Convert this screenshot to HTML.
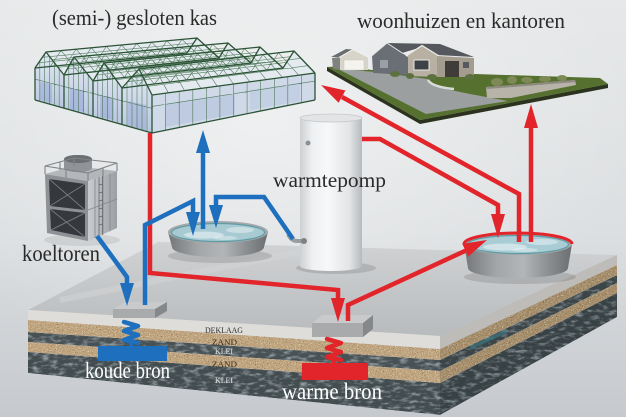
<!DOCTYPE html>
<html><head><meta charset="utf-8"><style>
html,body{margin:0;padding:0;width:626px;height:417px;overflow:hidden;background:#e0e2e4}
svg{display:block}
text{font-family:"Liberation Serif",serif}
</style></head><body>
<svg width="626" height="417" viewBox="0 0 626 417" xmlns="http://www.w3.org/2000/svg">
<defs>
<linearGradient id="bgG" x1="0" y1="0" x2="0" y2="1"><stop offset="0" stop-color="#e6e8e9"/><stop offset="0.55" stop-color="#dcdfe1"/><stop offset="1" stop-color="#c6cace"/></linearGradient>
<radialGradient id="bgR" cx="0.42" cy="0.3" r="0.6"><stop offset="0" stop-color="#fff" stop-opacity="0.45"/><stop offset="1" stop-color="#fff" stop-opacity="0"/></radialGradient>
<linearGradient id="topG" gradientUnits="userSpaceOnUse" x1="0" y1="245" x2="0" y2="336"><stop offset="0" stop-color="#cfd1d3"/><stop offset="1" stop-color="#b8bbbd"/></linearGradient>
<linearGradient id="hpG" x1="0" y1="0" x2="1" y2="0"><stop offset="0" stop-color="#cdd1d4"/><stop offset="0.2" stop-color="#eef0f1"/><stop offset="0.45" stop-color="#f7f8f9"/><stop offset="0.8" stop-color="#e2e4e6"/><stop offset="1" stop-color="#b6babe"/></linearGradient>
<linearGradient id="pbG" x1="0" y1="0" x2="1" y2="0"><stop offset="0" stop-color="#737679"/><stop offset="0.3" stop-color="#a3a6a9"/><stop offset="0.55" stop-color="#b3b6b9"/><stop offset="0.8" stop-color="#898c8f"/><stop offset="1" stop-color="#6b6e71"/></linearGradient>
<linearGradient id="twG" x1="0" y1="0" x2="1" y2="0"><stop offset="0" stop-color="#c9ccce"/><stop offset="1" stop-color="#9ca0a4"/></linearGradient>
<linearGradient id="ghG" x1="0" y1="0" x2="0" y2="1"><stop offset="0" stop-color="#e2e9f2"/><stop offset="1" stop-color="#b9c7df"/></linearGradient>
<filter id="sandF" color-interpolation-filters="sRGB">
 <feTurbulence type="fractalNoise" baseFrequency="0.85" numOctaves="2" seed="5" result="n"/>
 <feColorMatrix in="n" type="matrix" values="0 0 0 0 0.38  0 0 0 0 0.30  0 0 0 0 0.20  4 0 0 0 -2.45" result="dk"/>
 <feColorMatrix in="n" type="matrix" values="0 0 0 0 0.94  0 0 0 0 0.89  0 0 0 0 0.80  0 4 0 0 -2.3" result="lt"/>
 <feMerge result="m"><feMergeNode in="SourceGraphic"/><feMergeNode in="dk"/><feMergeNode in="lt"/></feMerge>
 <feComposite in="m" in2="SourceGraphic" operator="in"/>
</filter>
<filter id="kleiF" color-interpolation-filters="sRGB">
 <feTurbulence type="fractalNoise" baseFrequency="0.12 0.3" numOctaves="3" seed="8" result="n"/>
 <feColorMatrix in="n" type="matrix" values="0 0 0 0 0.56  0 0 0 0 0.60  0 0 0 0 0.62  0 0 3 0 -1.4" result="lt"/>
 <feMerge result="m"><feMergeNode in="SourceGraphic"/><feMergeNode in="lt"/></feMerge>
 <feComposite in="m" in2="SourceGraphic" operator="in"/>
</filter>
</defs>

<!-- background -->
<rect width="626" height="417" fill="url(#bgG)"/>
<rect width="626" height="417" fill="url(#bgR)"/>

<!-- greenhouse -->
<g>
 <polygon points="35,100 35,68 46,52 197,38 219,58 228,43 251,63 260,47 283,68 294,51 315,73 315,100 152,133" fill="#e4eaf0"/>
 <polygon points="152,95 315,73 315,100 152,133" fill="#cfd9e7"/>
 <polygon points="165,104 235,94 235,114 165,127" fill="#b2c1dc" opacity="0.6"/>
 <polygon points="250,90 300,83 300,101 250,110" fill="#b8c6df" opacity="0.5"/>
 <polygon points="35,100 35,68 46,52 64,75 64,108.2" fill="url(#ghG)"/>
 <polygon points="64,108.2 64,75 74,57 93,81 93,116.4" fill="url(#ghG)"/>
 <polygon points="93,116.4 93,81 104,63 122,88 122,124.5" fill="url(#ghG)"/>
 <polygon points="122,124.5 122,88 139,69 152,95 152,133" fill="url(#ghG)"/>
 <polygon points="40,82 52,84 52,103 40,100" fill="#8c9fd2" opacity="0.45"/>
 <polygon points="70,88 84,91 84,112 70,109" fill="#8c9fd2" opacity="0.45"/>
 <polygon points="100,95 114,98 114,120 100,117" fill="#8c9fd2" opacity="0.45"/>
 <polygon points="128,101 146,105 146,130 128,126" fill="#8c9fd2" opacity="0.4"/>
 <path id="ghgrid" d="" stroke="#3d6b47" stroke-width="0.6" fill="none" opacity="0.85"/>
 <path d="M35 100L152 133L315 100 M35 68L46 52L64 75L74 57L93 81L104 63L122 88L139 69L152 95 M35 68L35 100 M64 75L64 108 M93 81L93 116 M122 88L122 125 M152 95L152 133 M315 73L315 100 M35 68L187 53 M46 52L197 38 M64 75L219 58 M74 57L228 43 M93 81L251 63 M104 63L260 47 M122 88L283 68 M139 69L294 51 M152 95L315 73 M187 53L197 38L219 58L228 43L251 63L260 47L283 68L294 51L315 73" stroke="#2b5335" stroke-width="1.3" fill="none" stroke-linejoin="round"/>
</g>

<!-- house scene -->
<g>
 <polygon points="327,67 420,120 608,84 608,88 420,124 327,71" fill="#2b331f"/>
 <polygon points="327,67 345,66 372,70 475,74 600,78 608,84 420,120" fill="#56702f"/>
 <polygon points="338,69 376,72 428,79 436,87 470,94 508,101 426,114" fill="#9b9fa0"/>
 <path d="M428 80 Q432 87 454 89" stroke="#d8dad8" stroke-width="2.5" fill="none"/>
 <polygon points="486,87 575,80 576,85 511,98 487,98" fill="#b7b3a8"/>
 <polygon points="486,87 575,80 576,82 487,89" fill="#8e8a80"/>
 <g fill="#7d8a55">
  <ellipse cx="497" cy="82" rx="6" ry="4"/><ellipse cx="512" cy="80" rx="5" ry="4"/><ellipse cx="527" cy="80" rx="6" ry="3"/><ellipse cx="545" cy="79" rx="6" ry="3"/><ellipse cx="562" cy="78" rx="5" ry="3"/>
 </g>
 <!-- garage -->
 <polygon points="332,58 340,57 340,70 333,69" fill="#7f827d"/>
 <polygon points="340,57 353,50 368,57 368,70 340,70" fill="#d7d4ca"/>
 <polygon points="331,57 346,49 353,49.5 340,57" fill="#6a6d70"/>
 <polyline points="339,57.5 353,49.5 369,57.5" stroke="#f0efe9" stroke-width="1.2" fill="none"/>
 <rect x="344" y="60" width="20" height="10" fill="#f4f3ee" stroke="#c9c6bd" stroke-width="0.5"/>
 <!-- house -->
 <polygon points="372,56 387,43 402,53 408,57 408,75 373,73" fill="#6a6f76"/>
 <polygon points="387,43 440,44 474,57 437,55 422,47 402,53" fill="#55595e"/>
 <polyline points="371,56.5 387,43 403,53.5" stroke="#e8e8e5" stroke-width="1" fill="none"/>
 <polygon points="408,55 422,46 437,55 437,77 408,76" fill="#b8b1a3"/>
 <polyline points="406,56 422,45.5 439,56" stroke="#eeeeec" stroke-width="1.2" fill="none"/>
 <rect x="414" y="60" width="15" height="10" fill="#3e4145" stroke="#e8e8e8" stroke-width="1"/>
 <polygon points="437,56 474,58 474,77 437,77" fill="#a39c8f"/>
 <rect x="445" y="61" width="14" height="16" fill="#3f3c39"/>
 <rect x="463" y="62" width="6" height="6" fill="#55585c"/>
 <rect x="380" y="60" width="8" height="8" fill="#9aa0a6"/>
 <g fill="#5d7040"><ellipse cx="395" cy="74" rx="5" ry="3"/><ellipse cx="410" cy="76" rx="4" ry="3"/><ellipse cx="432" cy="77" rx="5" ry="3"/><ellipse cx="470" cy="77" rx="5" ry="3"/></g>
</g>

<!-- cooling tower -->
<g>
 <ellipse cx="82" cy="240" rx="38" ry="6" fill="#000" opacity="0.08"/>
 <polygon points="45,174 88,181 88,241 47,233" fill="#8e9195"/>
 <polygon points="49,179 85,184 85,210 50,206" fill="#35383c"/>
 <polygon points="50,209 85,213 85,237 51,230" fill="#35383c"/>
 <path d="M49 179L85 210 M85 184L50 206 M50 209L85 237 M85 213L51 230" stroke="#74787c" stroke-width="1"/>
 <polygon points="88,181 117,171 117,228 88,241" fill="url(#twG)"/>
 <path d="M95 178.6L95 237.9 M103 175.8L103 234.3 M110 173.4L110 231.1 M88 210L117 199" stroke="#85898d" stroke-width="0.8"/>
 <path d="M99 177L99 236 M102.5 176L102.5 235 M99 185L102.5 184 M99 193L102.5 192 M99 201L102.5 200 M99 209L102.5 208 M99 217L102.5 216 M99 225L102.5 224" stroke="#5f6266" stroke-width="0.7"/>
 <polygon points="45,174 74,166 117,171 88,181" fill="#b4b7ba"/>
 <path d="M64 168 L64 159 A14 4 0 0 1 92 159 L92 168 A14 4 0 0 1 64 168 Z" fill="#909397"/>
 <ellipse cx="78" cy="159" rx="14" ry="4" fill="#6c6f72"/>
 <path d="M45 166L88 173L117 163 M45 166L74 158L117 163 M45 166L45 174 M60 161.5L60 170 M74 158L74 166 M88 173L88 181 M103 168L103 176 M117 163L117 171 M66 169.5L66 177.5" stroke="#808386" stroke-width="1.1" fill="none"/>
</g>

<!-- slab -->
<g>
 <polygon points="28,310 158,242 617,255 440,336" fill="url(#topG)"/>
 <path d="M60 300 L300 252" stroke="#d3d5d7" stroke-width="6" opacity="0.5"/>
 <!-- front face -->
 <polygon points="28,310 440,336 440,349 28,320" fill="#dfddd9"/>
 <polygon points="28,320 440,349 440,360 28,332" fill="#bfa47e" filter="url(#sandF)"/>
 <polygon points="28,332 440,360 440,371 28,342" fill="#485255" filter="url(#kleiF)"/>
 <polygon points="28,342 440,371 440,383 28,352" fill="#bfa47e" filter="url(#sandF)"/>
 <polygon points="28,352 440,383 440,415 28,373" fill="#434d50" filter="url(#kleiF)"/>
 <!-- right face -->
 <polygon points="440,336 617,255 617,265 440,349" fill="#cfcdc9"/>
 <polygon points="440,349 617,265 617,275 440,360" fill="#b49a74" filter="url(#sandF)"/>
 <polygon points="440,360 617,275 617,283 440,371" fill="#414b4e" filter="url(#kleiF)"/>
 <polygon points="440,371 617,283 617,293 440,383" fill="#b49a74" filter="url(#sandF)"/>
 <polygon points="440,383 617,293 617,317 440,415" fill="#3d474a" filter="url(#kleiF)"/>
 <polygon points="470,346 507,329 507,333 470,350" fill="#3f7f8a" opacity="0.7"/>
 <polygon points="440,336 617,255 617,317 440,415" fill="#000" opacity="0.08"/>
</g>

<!-- heat pump -->
<g>
 <ellipse cx="336" cy="268" rx="40" ry="6" fill="#000" opacity="0.12"/>
 <rect x="300" y="118" width="62" height="148" fill="url(#hpG)"/>
 <ellipse cx="331" cy="266" rx="31" ry="5" fill="url(#hpG)"/>
 <rect x="300" y="118" width="62" height="7" fill="url(#hpG)" opacity="0.8"/>
 <ellipse cx="331" cy="118" rx="31" ry="4" fill="#e2e4e6" stroke="#c6c9cc" stroke-width="0.8"/>
 <circle cx="308" cy="143" r="2.5" fill="#8d9093"/>
 <path d="M288 234 Q291 241 297 241 L304 241" stroke="#9a9da0" stroke-width="4" fill="none"/>
 <circle cx="304" cy="241" r="3" fill="#7e8184"/>
</g>

<!-- left pond -->
<g>
 <ellipse cx="220" cy="256" rx="52" ry="7" fill="#000" opacity="0.12"/>
 <path d="M168 232 L172 247 A46 10 0 0 0 264 247 L268 232 Z" fill="url(#pbG)"/>
 <ellipse cx="218" cy="232" rx="50" ry="11" fill="#a5a8ab"/>
 <ellipse cx="218" cy="232.5" rx="46.5" ry="9" fill="#a7cad3" stroke="#5f9da4" stroke-width="1.2"/>
 <ellipse cx="204" cy="235" rx="20" ry="3.5" fill="#fff" opacity="0.45"/>
 <ellipse cx="240" cy="230" rx="14" ry="3" fill="#fff" opacity="0.4"/>
 <ellipse cx="225" cy="238" rx="12" ry="2" fill="#fff" opacity="0.35"/>
</g>

<!-- right pond -->
<g>
 <ellipse cx="520" cy="277" rx="56" ry="7" fill="#000" opacity="0.12"/>
 <path d="M464 244 L468 268 A50 10 0 0 0 568 268 L572 244 Z" fill="url(#pbG)"/>
 <ellipse cx="518" cy="244" rx="54" ry="11" fill="#a5a8ab"/>
 <ellipse cx="518" cy="244.5" rx="50.5" ry="9" fill="#a9ccd5" stroke="#5f9da4" stroke-width="1.2"/>
 <ellipse cx="505" cy="247" rx="22" ry="3.5" fill="#fff" opacity="0.45"/>
 <ellipse cx="542" cy="242" rx="16" ry="3" fill="#fff" opacity="0.4"/>
 <ellipse cx="525" cy="250" rx="13" ry="2" fill="#fff" opacity="0.35"/>
 <path d="M464 244 A54 11 0 0 1 572 244" stroke="#e2242b" stroke-width="3" fill="none"/>
</g>

<!-- platforms, coils, bars -->
<g>
 <polygon points="113,309 125,302 167,302 155,309" fill="#c9cacb"/>
 <polygon points="113,309 155,309 155,318 113,318" fill="#a8aaac"/>
 <polygon points="155,309 167,302 167,311 155,318" fill="#85888b"/>
 <polygon points="312,323 322,315 373,315 363,323" fill="#c9cacb"/>
 <polygon points="312,323 363,323 363,337 312,337" fill="#a8aaac"/>
 <polygon points="363,323 373,315 373,329 363,337" fill="#85888b"/>
 <path d="M124 322 L138 326 L124 331 L138 335 L124 340 L138 343" stroke="#1e6fbd" stroke-width="4.5" fill="none" stroke-linejoin="round" stroke-linecap="round"/>
 <rect x="129" y="340" width="4" height="7" fill="#1e6fbd"/>
 <rect x="98" y="346" width="69" height="15" fill="#1e6fbd"/>
 <path d="M327 339 L341 343 L327 348 L341 352 L327 357 L341 360" stroke="#e2242b" stroke-width="4.5" fill="none" stroke-linejoin="round" stroke-linecap="round"/>
 <rect x="332" y="358" width="4" height="6" fill="#e2242b"/>
 <rect x="302" y="363" width="66" height="17" fill="#e2242b"/>
</g>

<!-- pipes -->
<g fill="none" stroke-width="4.5" stroke-linejoin="miter">
 <path d="M150 133 L150 273 L338 290 L338 300" stroke="#e2242b"/>
 <path d="M348 321 L348 305 L467 250" stroke="#e2242b"/>
 <path d="M362 139 L380 139 L498 205 L498 216" stroke="#e2242b"/>
 <path d="M519 242 L519 194 L342 97" stroke="#e2242b"/>
 <path d="M531 242 L531 126" stroke="#e2242b"/>
 <path d="M203 229 L203 151" stroke="#1e6fbd"/>
 <path d="M145 305 L145 225 L193 201 L193 214" stroke="#1e6fbd"/>
 <path d="M293 239 L264 197 L216 197 L216 207" stroke="#1e6fbd"/>
 <path d="M97 236 L127 277 L127 285" stroke="#1e6fbd"/>
</g>
<g>
 <polygon points="338,322 331,298 345,298" fill="#e2242b"/>
 <polygon points="487,240 468.3,256.5 462.3,243.9" fill="#e2242b"/>
 <polygon points="498,238 491,214 505,214" fill="#e2242b"/>
 <polygon points="321,85 345.4,90.5 338.6,102.7" fill="#e2242b"/>
 <polygon points="531,104 524,128 538,128" fill="#e2242b"/>
 <polygon points="203,130 196,153 210,153" fill="#1e6fbd"/>
 <polygon points="193,236 186,212 200,212" fill="#1e6fbd"/>
 <polygon points="216,228 209,205 223,205" fill="#1e6fbd"/>
 <polygon points="127,306 120,283 134,283" fill="#1e6fbd"/>
</g>

<!-- labels -->
<g fill="#2a2a2a">
 <text x="52" y="25" font-size="22" textLength="165" lengthAdjust="spacingAndGlyphs">(semi-) gesloten kas</text>
 <text x="357" y="28" font-size="22" textLength="208" lengthAdjust="spacingAndGlyphs">woonhuizen en kantoren</text>
 <text x="273" y="187" font-size="21" textLength="113" lengthAdjust="spacingAndGlyphs">warmtepomp</text>
 <text x="22" y="261" font-size="23" textLength="78" lengthAdjust="spacingAndGlyphs">koeltoren</text>
</g>
<text x="85" y="378" font-size="23" fill="#ffffff" textLength="85" lengthAdjust="spacingAndGlyphs">koude bron</text>
<text x="282" y="399" font-size="23" fill="#ffffff" textLength="100" lengthAdjust="spacingAndGlyphs">warme bron</text>
<g font-size="8">
 <text x="205" y="333" fill="#2d2d2d" textLength="38" lengthAdjust="spacingAndGlyphs">DEKLAAG</text>
 <text x="212" y="345" fill="#3a2e20" textLength="25" lengthAdjust="spacingAndGlyphs">ZAND</text>
 <text x="215" y="354" fill="#e4e4e4" textLength="18" lengthAdjust="spacingAndGlyphs">KLEI</text>
 <text x="212" y="367" fill="#3a2e20" textLength="25" lengthAdjust="spacingAndGlyphs">ZAND</text>
 <text x="215" y="383" fill="#e4e4e4" textLength="18" lengthAdjust="spacingAndGlyphs">KLEI</text>
</g>
</svg>
<script>
(function(){
 var E=[[35,68],[64,75],[93,81],[122,88],[152,95]],P=[0,[46,52],[74,57],[104,63],[139,69]],
 Eb=[[187,53],[219,58],[251,63],[283,68],[315,73]],Pb=[0,[197,38],[228,43],[260,47],[294,51]];
 function L(a,b,t){return [a[0]+(b[0]-a[0])*t,a[1]+(b[1]-a[1])*t];}
 var d='';
 function ln(a,b){d+='M'+a[0].toFixed(1)+' '+a[1].toFixed(1)+'L'+b[0].toFixed(1)+' '+b[1].toFixed(1);}
 function B(x){return [x,100+(x-35)*33/117];}
 for(var i=1;i<=4;i++){
  var sl=[[E[i-1],P[i],Eb[i-1],Pb[i]],[P[i],E[i],Pb[i],Eb[i]]];
  for(var s=0;s<2;s++){var q=sl[s];
   for(var k=1;k<10;k++){var t=k/10;ln(L(q[0],q[2],t),L(q[1],q[3],t));}
   for(var k=1;k<3;k++){var t=k/3;ln(L(q[0],q[1],t),L(q[2],q[3],t));}
  }
  for(var k=1;k<6;k++){
   var x=E[i-1][0]+(E[i][0]-E[i-1][0])*k/6,y;
   if(x<=P[i][0]) y=E[i-1][1]+(P[i][1]-E[i-1][1])*(x-E[i-1][0])/(P[i][0]-E[i-1][0]);
   else y=P[i][1]+(E[i][1]-P[i][1])*(x-P[i][0])/(E[i][0]-P[i][0]);
   ln([x,y],B(x));
  }
  ln(L(E[i-1],B(E[i-1][0]),0.35),L(E[i],B(E[i][0]),0.35));
 }
 var BR=[315,100],B4=[152,133];
 for(var k=1;k<12;k++){var t=k/12;ln(L(E[4],Eb[4],t),L(B4,BR,t));}
 ln(L(E[4],B4,0.3),L(Eb[4],BR,0.3));
 document.getElementById('ghgrid').setAttribute('d',d);
})();
</script>
</body></html>
